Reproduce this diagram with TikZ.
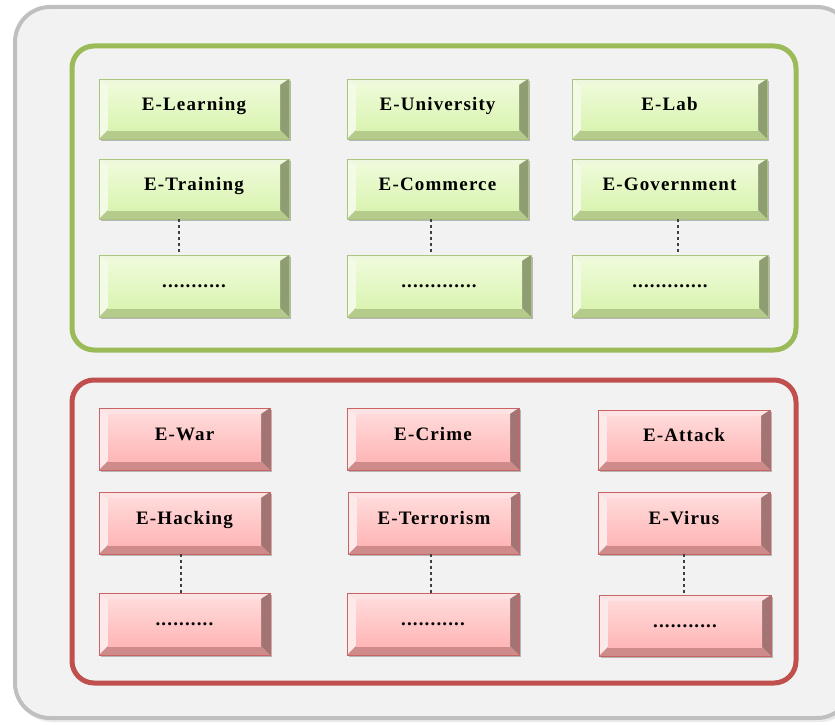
\documentclass[tikz,border=0pt]{standalone}
\usepackage{fontspec}
\newfontfamily\btnfam{Liberation Serif}[LetterSpace=6]
\usetikzlibrary{calc,shadows}

% panel colours
\definecolor{outerFill}{HTML}{F2F2F2}
\definecolor{outerLine}{HTML}{BFBFBF}
\definecolor{gFrame}{HTML}{9BBB59}
\definecolor{rFrame}{HTML}{C0504D}
% green key colours
\definecolor{gBorder}{HTML}{A9C57E}
\definecolor{gTop}{HTML}{EEF8DC}
\definecolor{gLeft}{HTML}{F3FBE7}
\definecolor{gRight}{HTML}{8E9E72}
\definecolor{gBot}{HTML}{B4CB8C}
\definecolor{gFaceT}{HTML}{EEFBD8}
\definecolor{gFaceB}{HTML}{DAF4B2}
% red key colours
\definecolor{rBorder}{HTML}{C96464}
\definecolor{rTop}{HTML}{FDE3E3}
\definecolor{rLeft}{HTML}{FDE9E9}
\definecolor{rRight}{HTML}{A27474}
\definecolor{rBot}{HTML}{CF8A8A}
\definecolor{rFaceT}{HTML}{FFDADA}
\definecolor{rFaceB}{HTML}{FFB6B6}

% bevelled key face: top, left, right, bottom bevels, face gradient top/bottom
\newcommand\keybevel[6]{%
  \path (path picture bounding box.north west) coordinate (bnw)
        (path picture bounding box.south east) coordinate (bse);
  \coordinate (bne) at (bnw -| bse);
  \coordinate (bsw) at (bse -| bnw);
  \coordinate (inw) at ($(bnw)+(9,6)$);
  \coordinate (ine) at ($(bne)+(-9,6)$);
  \coordinate (ise) at ($(bse)+(-9,-9)$);
  \coordinate (isw) at ($(bsw)+(9,-9)$);
  \fill[#1] (bnw) -- (bne) -- (ine) -- (inw) -- cycle;
  \fill[#2] (bnw) -- (inw) -- (isw) -- (bsw) -- cycle;
  \fill[#3] (bne) -- (bse) -- (ise) -- (ine) -- cycle;
  \fill[#4] (bsw) -- (isw) -- (ise) -- (bse) -- cycle;
  \shade[top color=#5, bottom color=#6] (inw) rectangle (ise);
}

\tikzset{
  keybox/.style={rectangle, inner sep=0pt, text height=13pt, text depth=10pt,
    line width=0.7pt,
    font={\btnfam\bfseries\fontsize{19}{22}\selectfont},
    drop shadow={shadow xshift=1.5pt, shadow yshift=-1.5pt, opacity=0.25, fill=black}},
  gkey/.style={keybox, draw=gBorder,
    path picture={\keybevel{gTop}{gLeft}{gRight}{gBot}{gFaceT}{gFaceB}}},
  rkey/.style={keybox, draw=rBorder,
    path picture={\keybevel{rTop}{rLeft}{rRight}{rBot}{rFaceT}{rFaceB}}},
  frame/.style={line width=5pt, rounded corners=22pt},
  conn/.style={draw=black!75, line width=1.2pt, dash pattern=on 3pt off 3pt},
}

\begin{document}
\begin{tikzpicture}[x=1pt,y=-1pt]
\useasboundingbox (0,0) rectangle (835,725);
\fill[white] (0,0) rectangle (835,725);

\begin{scope}
  \clip (0,0) rectangle (835,725);
  \fill[black, opacity=0.08, rounded corners=35pt] (17,10) rectangle (855,722);
  \draw[outerLine, fill=outerFill, line width=4pt, rounded corners=35pt]
    (15,7) rectangle (852,718);
\end{scope}

% frames
\draw[frame, gFrame] (72,46) rectangle (796,350);
\draw[frame, rFrame] (72,380) rectangle (796,683);

% green keys
\node[gkey, minimum width=190pt, minimum height=60pt] (g11) at (194,109) {E-Learning};
\node[gkey, minimum width=181pt, minimum height=60pt] (g12) at (437.5,109) {E-University};
\node[gkey, minimum width=195pt, minimum height=60pt] (g13) at (669.5,109) {E-Lab};
\node[gkey, minimum width=190pt, minimum height=60pt] (g21) at (194,189) {E-Training};
\node[gkey, minimum width=181pt, minimum height=60pt] (g22) at (437.5,189) {E-Commerce};
\node[gkey, minimum width=195pt, minimum height=60pt] (g23) at (669.5,189) {E-Government};
\node[gkey, minimum width=190pt, minimum height=62pt] (g31) at (194,286) {...........};
\node[gkey, minimum width=184pt, minimum height=62pt] (g32) at (439,286) {.............};
\node[gkey, minimum width=196pt, minimum height=62pt] (g33) at (670,286) {.............};

% red keys
\node[rkey, minimum width=171pt, minimum height=62pt] (r11) at (184.5,439) {E-War};
\node[rkey, minimum width=172pt, minimum height=62pt] (r12) at (433,439) {E-Crime};
\node[rkey, minimum width=172pt, minimum height=60pt] (r13) at (684,440) {E-Attack};
\node[rkey, minimum width=171pt, minimum height=62pt] (r21) at (184.5,523) {E-Hacking};
\node[rkey, minimum width=171pt, minimum height=62pt] (r22) at (434,523) {E-Terrorism};
\node[rkey, minimum width=172pt, minimum height=62pt] (r23) at (684,523) {E-Virus};
\node[rkey, minimum width=171pt, minimum height=62pt] (r31) at (184.5,624) {..........};
\node[rkey, minimum width=172pt, minimum height=62pt] (r32) at (433,624) {...........};
\node[rkey, minimum width=172pt, minimum height=61pt] (r33) at (685,625.5) {...........};

% dashed links to the continuation keys
\draw[conn] ([xshift=-15pt]g21.south) -- ([xshift=-15pt]g31.north);
\draw[conn] ([xshift=-6.5pt]g22.south) -- ([xshift=-8pt]g32.north);
\draw[conn] ([xshift=8.5pt]g23.south) -- ([xshift=8pt]g33.north);
\draw[conn] ([xshift=-3.5pt]r21.south) -- ([xshift=-3.5pt]r31.north);
\draw[conn] ([xshift=-3pt]r22.south) -- ([xshift=-2pt]r32.north);
\draw[conn] ([xshift=0pt]r23.south) -- ([xshift=-1pt]r33.north);
\end{tikzpicture}
\end{document}
